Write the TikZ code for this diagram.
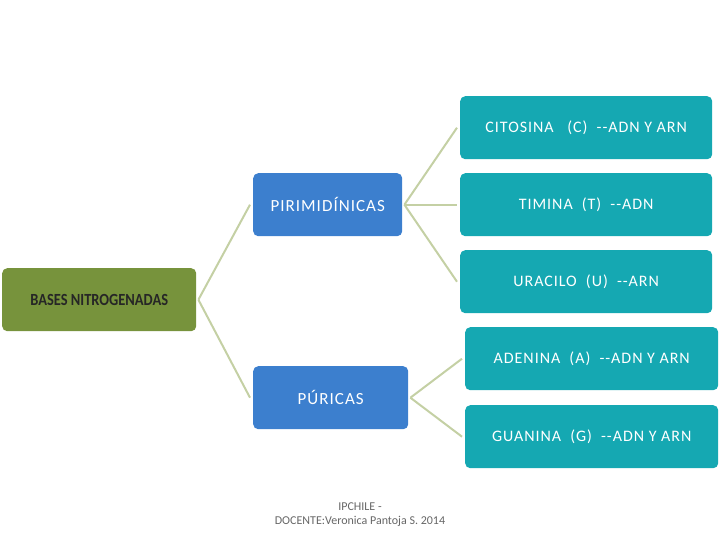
\documentclass[tikz,border=0pt]{standalone}
\usepackage{fontspec}
\setmainfont{Carlito}
\usepackage{graphicx}
\definecolor{olive}{HTML}{77933C}
\definecolor{bluebox}{HTML}{3C7FCE}
\definecolor{tealbox}{HTML}{15A8B2}
\definecolor{conn}{HTML}{C4D0A4}
\definecolor{foot}{HTML}{666666}
\tikzset{
  boxbase/.style={rounded corners=5pt, minimum height=63pt, inner sep=0pt, anchor=north west},
  rootbox/.style={boxbase, fill=olive, minimum width=194pt, font=\fontsize{17}{20}\selectfont\bfseries, text=black!85},
  midbox/.style={boxbase, fill=bluebox, text=white, font=\fontsize{17}{20}\selectfont\addfontfeatures{LetterSpace=6}},
  leafbox/.style={boxbase, fill=tealbox, text=white, minimum width=252pt, font=\fontsize{16}{19}\selectfont\addfontfeatures{LetterSpace=6}},
  link/.style={draw=conn, line width=2pt},
}
\begin{document}
\begin{tikzpicture}[x=1pt,y=-1pt]
\useasboundingbox (0,0) rectangle (720,540);
\node[rootbox] (root) at (2,268) {\scalebox{0.85}[1]{BASES NITROGENADAS}};
\node[midbox, minimum width=149pt] (pir) at (253,173) {PIRIMIDÍNICAS};
\node[midbox, minimum width=155pt] (pur) at (253,366) {PÚRICAS};
\node[leafbox] (cit) at (460,96) {CITOSINA\ \ \ (C)\ \ -{}-ADN Y ARN};
\node[leafbox] (tim) at (460,173) {TIMINA\ \ (T)\ \ -{}-ADN};
\node[leafbox] (ura) at (460,250) {URACILO\ \ (U)\ \ -{}-ARN};
\node[leafbox, minimum width=253pt] (ade) at (465,327) {ADENINA\ \ (A)\ \ -{}-ADN Y ARN};
\node[leafbox, minimum width=253pt] (gua) at (465,405) {GUANINA\ \ (G)\ \ -{}-ADN Y ARN};
\draw[link] ([xshift=2pt]root.east) -- ([xshift=-3pt]pir.west);
\draw[link] ([xshift=2pt]root.east) -- ([xshift=-3pt]pur.west);
\draw[link] ([xshift=2pt]pir.east) -- ([xshift=-3pt]cit.west);
\draw[link] ([xshift=2pt]pir.east) -- ([xshift=-3pt]tim.west);
\draw[link] ([xshift=2pt]pir.east) -- ([xshift=-3pt]ura.west);
\draw[link] ([xshift=2pt]pur.east) -- ([xshift=-3pt]ade.west);
\draw[link] ([xshift=2pt]pur.east) -- ([xshift=-3pt]gua.west);
\node[text=foot, font=\fontsize{12}{14}\selectfont, align=center] (ft) at (360,515) {IPCHILE -\\DOCENTE:Veronica Pantoja S. 2014};
\end{tikzpicture}
\end{document}
